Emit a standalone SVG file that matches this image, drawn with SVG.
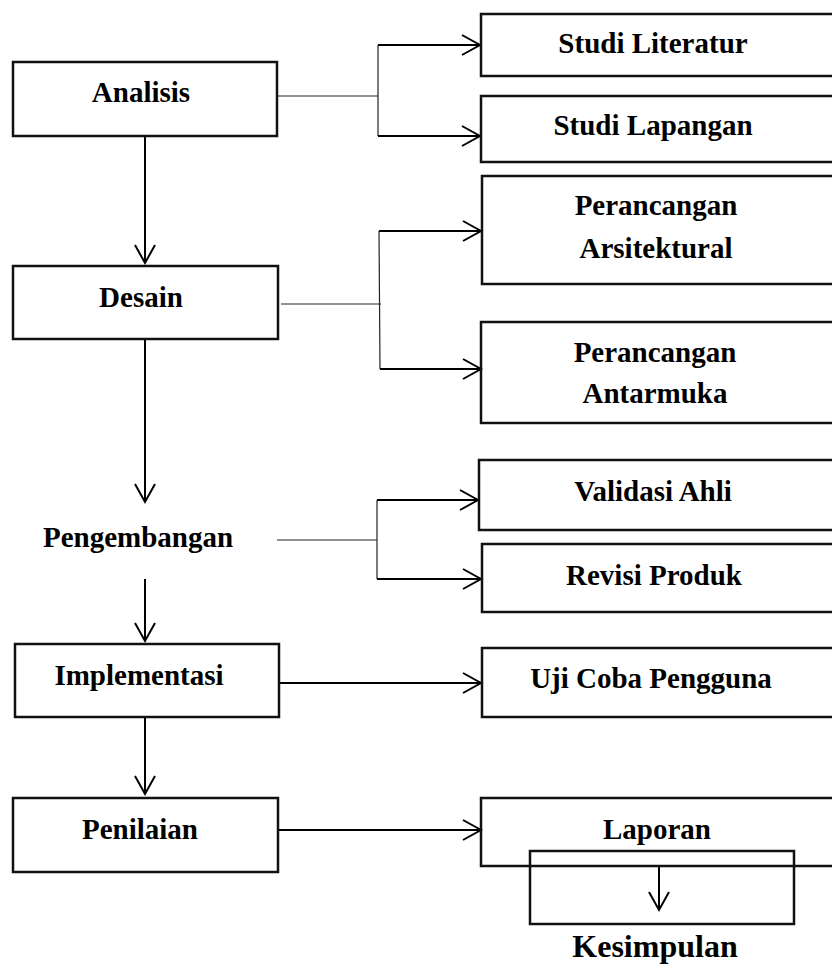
<svg xmlns="http://www.w3.org/2000/svg" width="832" height="965" viewBox="0 0 832 965">
<style>
.box{fill:none;stroke:#111;stroke-width:2.5}
.t{font-family:"Liberation Serif","Times New Roman",serif;font-weight:bold;font-size:29px;fill:#000;text-anchor:middle}
.big{font-size:32px}
.c{fill:none;stroke:#000;stroke-width:2}
.thin{fill:none;stroke:#222;stroke-width:1.2}
</style>
<defs>
<marker id="ah" markerUnits="userSpaceOnUse" markerWidth="24" markerHeight="24" viewBox="-20 -12 22 24" refX="0" refY="0" orient="auto" overflow="visible">
<path d="M-18,-10 L0,0 L-18,10" fill="none" stroke="#000" stroke-width="2"/>
</marker>
</defs>
<rect width="832" height="965" fill="#fff"/>
<g id="connectors">
<line class="c" x1="145" y1="136" x2="145" y2="263" marker-end="url(#ah)"/>
<line class="c" x1="145" y1="339" x2="145" y2="502" marker-end="url(#ah)"/>
<line class="c" x1="145" y1="579" x2="145" y2="641" marker-end="url(#ah)"/>
<line class="c" x1="145" y1="717" x2="145" y2="794" marker-end="url(#ah)"/>
<polyline class="thin" points="278,96 378,96"/>
<polyline class="thin" points="378,45 378,136"/>
<line class="c" x1="378" y1="45" x2="480" y2="45" marker-end="url(#ah)"/>
<line class="c" x1="378" y1="136" x2="480" y2="136" marker-end="url(#ah)"/>
<polyline class="thin" points="281,304 381,304"/>
<polyline class="thin" points="379,231 380,369"/>
<line class="c" x1="379" y1="231" x2="481" y2="231" marker-end="url(#ah)"/>
<line class="c" x1="380" y1="369" x2="481" y2="369" marker-end="url(#ah)"/>
<polyline class="thin" points="277,540 377,540"/>
<polyline class="thin" points="377,500 377,579"/>
<line class="c" x1="377" y1="500" x2="478" y2="500" marker-end="url(#ah)"/>
<line class="c" x1="377" y1="579" x2="481" y2="579" marker-end="url(#ah)"/>
<line class="c" x1="279" y1="683" x2="481" y2="683" marker-end="url(#ah)"/>
<line class="c" x1="278" y1="830" x2="481" y2="830" marker-end="url(#ah)"/>
<line class="c" x1="659" y1="866" x2="659" y2="910" marker-end="url(#ah)"/>
</g>
<g id="analisis"><rect class="box" x="13" y="62" width="264" height="74"/><text class="t" x="141" y="102">Analisis</text></g>
<g id="desain"><rect class="box" x="13" y="266" width="265" height="73"/><text class="t" x="141" y="307">Desain</text></g>
<g id="pengembangan"><text class="t" x="138" y="547">Pengembangan</text></g>
<g id="implementasi"><rect class="box" x="15" y="644" width="264" height="73"/><text class="t" x="139" y="685">Implementasi</text></g>
<g id="penilaian"><rect class="box" x="13" y="798" width="265" height="74"/><text class="t" x="140" y="839">Penilaian</text></g>
<g id="studi-literatur"><rect class="box" x="481" y="14" width="360" height="62"/><text class="t" x="653" y="53">Studi Literatur</text></g>
<g id="studi-lapangan"><rect class="box" x="481" y="96" width="360" height="66"/><text class="t" x="653" y="135">Studi Lapangan</text></g>
<g id="perancangan-arsitektural"><rect class="box" x="482" y="176" width="360" height="108"/><text class="t" x="656" y="215">Perancangan</text><text class="t" x="656" y="258">Arsitektural</text></g>
<g id="perancangan-antarmuka"><rect class="box" x="481" y="322" width="360" height="101"/><text class="t" x="655" y="362">Perancangan</text><text class="t" x="655" y="403">Antarmuka</text></g>
<g id="validasi-ahli"><rect class="box" x="479" y="460" width="360" height="70"/><text class="t" x="653" y="501">Validasi Ahli</text></g>
<g id="revisi-produk"><rect class="box" x="482" y="544" width="360" height="68"/><text class="t" x="654" y="585">Revisi Produk</text></g>
<g id="uji-coba"><rect class="box" x="482" y="648" width="360" height="69"/><text class="t" x="651" y="688">Uji Coba Pengguna</text></g>
<g id="laporan"><rect class="box" x="481" y="798" width="360" height="68"/><text class="t" x="657" y="839">Laporan</text></g>
<g id="kesimpulan"><rect class="box" x="530" y="851" width="264" height="73"/><text class="t big" x="655" y="957">Kesimpulan</text></g>
</svg>
